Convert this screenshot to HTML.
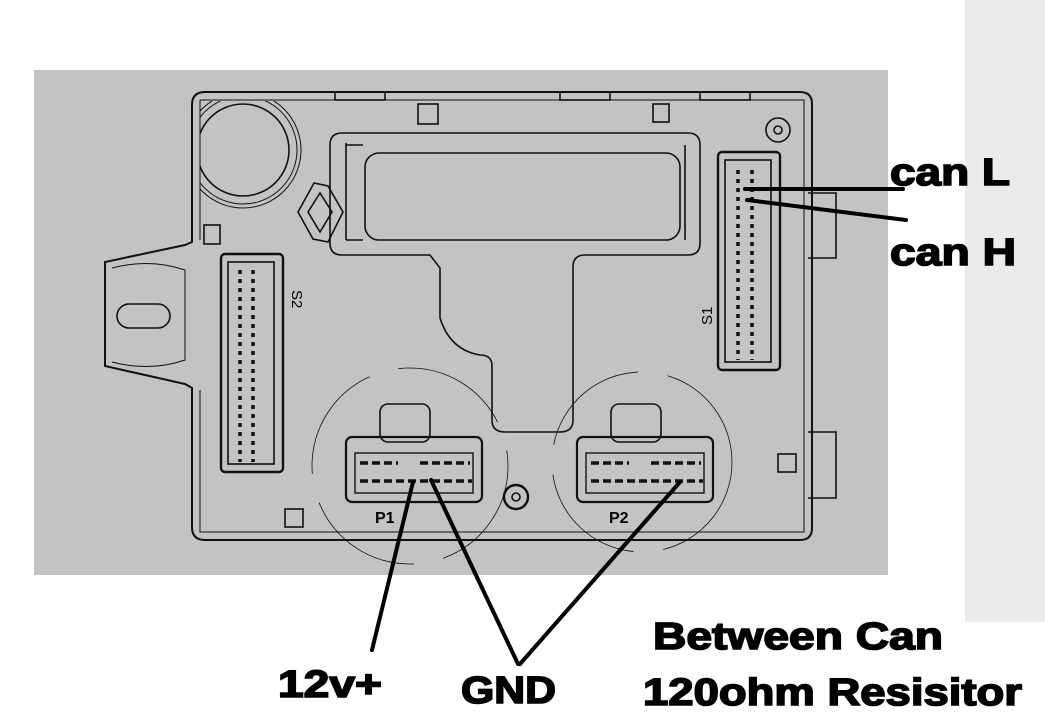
<!DOCTYPE html>
<html><head><meta charset="utf-8"><style>
html,body{margin:0;padding:0;background:#fff;}
svg{display:block;}
text{font-family:"Liberation Sans",Arial,sans-serif;font-weight:bold;fill:#000;}
.big{stroke:#000;stroke-width:1.6;}
</style></head><body>
<svg width="1045" height="718" viewBox="0 0 1045 718" xmlns="http://www.w3.org/2000/svg">
<defs><clipPath id="cc"><rect x="200" y="101" width="120" height="120"/></clipPath></defs>
<rect x="0" y="0" width="1045" height="718" fill="#fff"/>
<rect x="965" y="0" width="80" height="622" fill="#ebebed"/>
<rect x="34" y="70" width="854" height="505" fill="#c3c3c3"/>
<g fill="none" stroke="#111" stroke-width="1.6">
  <path d="M205 92 H800 Q812 92 812 104 V528 Q812 540 800 540 H205 Q192 540 192 527 V388 L185 384 L105 366 V262 L185 245 L192 242 V105 Q192 92 205 92 Z" stroke-width="2"/>
  <path d="M200 100 H804 V532 H200 V390 M200 240 V100" stroke-width="1"/>
  <path d="M112 268 Q150 258 185 270 V360 Q150 372 112 362" stroke-width="1"/>
  <rect x="117" y="304" width="53" height="24" rx="12"/>
  <g clip-path="url(#cc)">
    <circle cx="243" cy="150" r="46"/>
    <circle cx="243" cy="150" r="54" stroke-width="1"/>
    <circle cx="243" cy="150" r="58" stroke-width="1"/>
  </g>
  <path d="M298 212 L314 183 L328 186 L343 212 L328 242 L313 239 Z"/>
  <path d="M308 212 L320 193 L332 212 L320 232 Z"/>
  <rect x="204" y="225" width="16" height="19"/>
  <rect x="418" y="104" width="20" height="20"/>
  <rect x="653" y="104" width="16" height="18"/>
  <rect x="285" y="509" width="18" height="18"/>
  <rect x="778" y="454" width="18" height="18"/>
  <rect x="335" y="92" width="50" height="8"/>
  <rect x="560" y="92" width="50" height="8"/>
  <rect x="700" y="92" width="50" height="8"/>
  <path d="M342 133 H688 Q700 133 700 145 V243 Q700 255 688 255 H585 Q573 255 573 267 V420 Q573 432 560 432 H505 Q492 432 492 420 V366 Q492 355 480 355 Q450 350 440 318 V268 L430 255 H342 Q330 255 330 243 V145 Q330 133 342 133 Z"/>
  <path d="M346 143 V240 M346 145 H363 M346 240 H363 M685 145 V240"/>
  <rect x="365" y="153" width="315" height="87" rx="14"/>
  <rect x="221" y="254" width="62" height="218" rx="4" stroke-width="2.4"/>
  <rect x="228" y="262" width="46" height="202" stroke-width="1.6"/>
  <rect x="718" y="152" width="62" height="218" rx="4" stroke-width="2.4"/>
  <rect x="725" y="160" width="46" height="202" stroke-width="1.6"/>
  <path d="M808 193 H836 V258 H808"/>
  <path d="M808 432 H836 V498 H808"/>
  <circle cx="778" cy="130" r="12"/><circle cx="778" cy="130" r="4"/>
  <circle cx="516" cy="497" r="12" stroke-width="2.4"/><circle cx="516" cy="497" r="4"/>
  <circle cx="410" cy="466" r="98" stroke-width="0.8" stroke-dasharray="120 30"/>
  <circle cx="642" cy="462" r="90" stroke-width="0.8" stroke-dasharray="120 30"/>
  <rect x="380" y="404" width="50" height="38" rx="8"/>
  <rect x="346" y="437" width="136" height="65" rx="6" stroke-width="2.2"/>
  <rect x="355" y="453" width="118" height="40" stroke-width="1.4"/>
  <rect x="611" y="404" width="50" height="38" rx="8"/>
  <rect x="577" y="437" width="136" height="65" rx="6" stroke-width="2.2"/>
  <rect x="586" y="453" width="118" height="40" stroke-width="1.4"/>
</g>
<g stroke="#111" stroke-width="3.5" stroke-dasharray="4 5">
  <line x1="240" y1="270" x2="240" y2="462"/><line x1="253" y1="270" x2="253" y2="462"/>
  <line x1="738" y1="170" x2="738" y2="360"/><line x1="752" y1="170" x2="752" y2="360"/>
</g>
<g stroke="#111" stroke-width="3.5" stroke-dasharray="8 4">
  <line x1="360" y1="463" x2="398" y2="463"/><line x1="420" y1="463" x2="470" y2="463"/>
  <line x1="360" y1="481" x2="472" y2="481"/>
  <line x1="591" y1="463" x2="629" y2="463"/><line x1="651" y1="463" x2="701" y2="463"/>
  <line x1="591" y1="481" x2="703" y2="481"/>
</g>
<text x="292" y="290" font-size="15" transform="rotate(90 292 290)" style="font-weight:normal">S2</text>
<text x="712" y="325" font-size="15" transform="rotate(-90 712 325)" style="font-weight:normal">S1</text>
<text x="375" y="523" font-size="16">P1</text>
<text x="609" y="523" font-size="16">P2</text>
<g stroke="#000" stroke-width="4" stroke-linecap="round">
  <line x1="745" y1="189" x2="903" y2="189"/>
  <line x1="747" y1="200" x2="906" y2="220"/>
  <line x1="413" y1="482" x2="372" y2="650"/>
  <line x1="431" y1="480" x2="518" y2="664"/>
  <line x1="680" y1="482" x2="520" y2="664"/>
</g>
<text class="big" x="890" y="185" font-size="38" textLength="120" lengthAdjust="spacingAndGlyphs">can L</text>
<text class="big" x="890" y="265" font-size="38" textLength="126" lengthAdjust="spacingAndGlyphs">can H</text>
<text class="big" x="653" y="649" font-size="38" textLength="290" lengthAdjust="spacingAndGlyphs">Between Can</text>
<text class="big" x="643" y="705" font-size="38" textLength="379" lengthAdjust="spacingAndGlyphs">120ohm Resisitor</text>
<text class="big" x="278" y="697" font-size="38" textLength="104" lengthAdjust="spacingAndGlyphs">12v+</text>
<text class="big" x="461" y="703" font-size="38" textLength="95" lengthAdjust="spacingAndGlyphs">GND</text>
</svg>
</body></html>
